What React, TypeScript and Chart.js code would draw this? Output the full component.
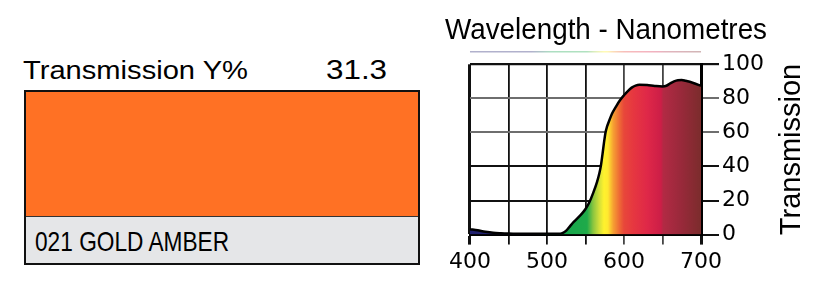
import React, { useEffect, useRef } from "react";
import { Chart, registerables } from "chart.js";

Chart.register(...registerables);

// ---- data ----
const wavelengths = [400, 410, 420, 430, 440, 450, 460, 480, 500, 515, 520, 525, 530, 535, 540, 545, 550, 555, 560, 565, 568, 570, 572, 574, 576, 578, 580, 585, 590, 595, 600, 605, 610, 615, 620, 630, 640, 650, 655, 660, 665, 670, 675, 680, 690, 700];
const transmission = [3.2, 2.5, 1.7, 1.1, 0.8, 0.6, 0.5, 0.5, 0.5, 0.5, 0.9, 2.3, 5.0, 7.6, 9.8, 12.2, 15.0, 19.0, 24.5, 31.0, 36.0, 40.5, 47.0, 54.0, 60.0, 63.5, 66.0, 71.5, 75.5, 79.0, 81.8, 84.3, 86.3, 87.5, 88.0, 87.8, 87.3, 87.0, 87.4, 88.8, 90.0, 90.7, 90.8, 90.3, 89.0, 87.3];
const xTicks = [400, 450, 500, 550, 600, 650, 700];
const yTicks = [0, 20, 40, 60, 80, 100];
const chartTitle = "Wavelength - Nanometres";
const yTitle = "Transmission";
const swatchLabel = "Transmission Y%";
const swatchValue = "31.3";
const filterName = "021 GOLD AMBER";

// ---- styles ----
const spectrumStops = [400, 480, 505, 520, 552, 560, 568, 574, 579, 586, 594, 600, 612, 630, 648, 651, 675, 700];
const spectrumColors = ["#20206e", "#20206e", "#13a050", "#15a54b", "#1faa4a", "#8cc63f", "#d4e03a", "#fff22d", "#ffe930", "#f6a032", "#ee6a35", "#e8473a", "#e63740", "#df2848", "#cc1e47", "#b22a44", "#98293a", "#7b2c2c"];
const swatchColor = "#ff7124";
const nameBoxColor = "#e5e6e8";
const SANS = '"Liberation Sans", Arial, Helvetica, sans-serif';
const TICK_FONT = '"DejaVu Sans", "Liberation Sans", sans-serif';

function makeSpectrum(ctx: CanvasRenderingContext2D, chart: any, alpha = 1) {
  const x = chart.scales.x;
  const x0 = x.getPixelForValue(400);
  const x1 = x.getPixelForValue(700);
  const g = ctx.createLinearGradient(x0, 0, x1, 0);
  spectrumStops.forEach((w, i) => {
    let c = spectrumColors[i];
    if (alpha < 1) {
      const r = parseInt(c.slice(1, 3), 16), gg = parseInt(c.slice(3, 5), 16), b = parseInt(c.slice(5, 7), 16);
      c = `rgba(${r},${gg},${b},${alpha})`;
    }
    g.addColorStop((w - 400) / 300, c);
  });
  return g;
}

const extras = {
  id: "extras",
  afterDraw(chart: any) {
    const { ctx, chartArea, scales } = chart;
    ctx.save();
    // faint spectrum strip above plot
    ctx.strokeStyle = makeSpectrum(ctx, chart, 0.35);
    ctx.lineWidth = 1.5;
    ctx.beginPath();
    ctx.moveTo(scales.x.getPixelForValue(400), chartArea.top - 12.5);
    ctx.lineTo(scales.x.getPixelForValue(700), chartArea.top - 12.5);
    ctx.stroke();
    // rotated y title, reading bottom-to-top
    ctx.font = `29px ${SANS}`;
    ctx.fillStyle = "#000";
    ctx.translate(scales.y.right + 25, (chartArea.top + chartArea.bottom) / 2);
    ctx.rotate(-Math.PI / 2);
    ctx.textAlign = "center";
    ctx.textBaseline = "middle";
    ctx.fillText(yTitle, 0, 0);
    ctx.restore();
  },
};

function SpectrumChart() {
  const ref = useRef<HTMLCanvasElement>(null);
  useEffect(() => {
    if (!ref.current) return;
    const chart = new Chart(ref.current, {
      type: "line",
      data: {
        datasets: [
          {
            data: wavelengths.map((w, i) => ({ x: w, y: transmission[i] })),
            borderColor: "#000",
            borderWidth: 2.5,
            pointRadius: 0,
            cubicInterpolationMode: "monotone",
            fill: "origin",
            backgroundColor: (c: any) => {
              const ch = c.chart;
              if (!ch.chartArea) return "transparent";
              return makeSpectrum(ch.ctx, ch);
            },
          },
        ],
      },
      options: {
        animation: false,
        responsive: false,
        events: [],
        layout: { padding: { left: 0, right: 60, bottom: 4, top: 0 } },
        plugins: {
          legend: { display: false },
          tooltip: { enabled: false },
          title: {
            display: true,
            text: chartTitle,
            align: "start",
            color: "#000",
            font: { family: SANS, size: 29, weight: "normal" },
            padding: { top: 14, bottom: 15.5 },
          },
        },
        scales: {
          x: {
            type: "linear",
            min: 400,
            max: 700,
            z: 1,
            afterBuildTicks: (s: any) => {
              s.ticks = xTicks.map((v) => ({ value: v }));
            },
            ticks: {
              autoSkip: false,
              maxRotation: 0,
              padding: 4,
              color: "#000",
              font: { family: TICK_FONT, size: 22 },
              callback: (v: any) => (Number(v) % 100 === 0 ? String(v) : ""),
            },
            grid: {
              tickLength: 10,
              color: (c: any) => {
                const v = c.tick?.value;
                return v === 600 || v === 650 ? "#444" : "#111";
              },
              lineWidth: (c: any) => {
                const v = c.tick?.value;
                return v === 400 || v === 700 ? 3 : 1.8;
              },
            },
            border: { display: true, color: "#000", width: 2 },
          },
          y: {
            position: "right",
            min: 0,
            max: 100,
            z: 1,
            afterBuildTicks: (s: any) => {
              s.ticks = yTicks.map((v) => ({ value: v }));
            },
            ticks: {
              padding: 3,
              color: "#000",
              font: { family: TICK_FONT, size: 22 },
            },
            grid: {
              tickLength: 18,
              color: (c: any) => {
                const v = c.tick?.value;
                return v === 60 || v === 80 ? "#6e6e6e" : "#111";
              },
              lineWidth: (c: any) => (c.tick?.value === 100 ? 2.2 : 2),
            },
            border: { display: true, color: "#000", width: 3 },
          },
        },
      },
      plugins: [extras],
    } as any);
    return () => chart.destroy();
  }, []);
  return (
    <canvas
      ref={ref}
      width={382}
      height={283}
      style={{ position: "absolute", left: 445, top: 0, width: 382, height: 283 }}
    />
  );
}

export default function App() {
  return (
    <div style={{ position: "fixed", left: 0, top: 0, width: 827, height: 283, background: "#fff", fontFamily: SANS, overflow: "hidden" }}>
      <div style={{ position: "absolute", left: 23, top: 57, fontSize: 26, lineHeight: "26px", whiteSpace: "nowrap", transform: "scaleX(1.12)", transformOrigin: "left top", color: "#000" }}>
        {swatchLabel}
      </div>
      <div style={{ position: "absolute", left: 326, top: 56, fontSize: 28, lineHeight: "28px", whiteSpace: "nowrap", transform: "scaleX(1.12)", transformOrigin: "left top", color: "#000" }}>
        {swatchValue}
      </div>
      <div style={{ position: "absolute", left: 24, top: 90, width: 396, height: 175, boxSizing: "border-box", border: "2px solid #111", background: nameBoxColor }}>
        <div style={{ height: 124, background: swatchColor, borderBottom: "1.5px solid #333" }} />
      </div>
      <div style={{ position: "absolute", left: 35, top: 228, fontSize: 28, lineHeight: "28px", whiteSpace: "nowrap", transform: "scaleX(0.81)", transformOrigin: "left top", color: "#000" }}>
        {filterName}
      </div>
      <SpectrumChart />
    </div>
  );
}
